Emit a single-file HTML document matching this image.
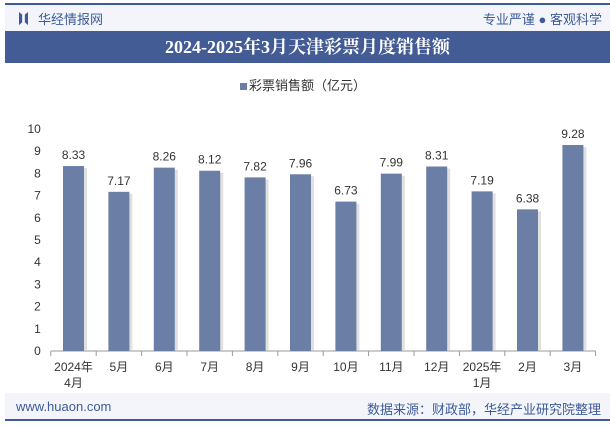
<!DOCTYPE html>
<html><head><meta charset="utf-8"><style>
body{margin:0;width:615px;height:427px;background:#fff;font-family:"Liberation Sans","Noto Sans CJK SC",sans-serif;position:relative;overflow:hidden}
.a{position:absolute}
</style></head><body>
<div class="a" style="left:5px;top:3px;width:605px;height:2px;background:#3d5a99"></div>
<div class="a" style="left:5px;top:5px;width:605px;height:26px;background:#f3f5fa"></div>
<div class="a" style="left:19px;top:12px;width:9px;height:13px;background:#3d5a99;clip-path:polygon(0 0,35% 20%,35% 80%,0 100%,0 0,100% 0,65% 20%,65% 80%,100% 100%,100% 0)"></div>
<div class="a" style="left:38px;top:9px;font-size:13px;color:#3d5a99">华经情报网</div>
<div class="a" style="right:13px;top:9px;font-size:13px;color:#3d5a99">专业严谨 ● 客观科学</div>
<div class="a" style="left:5px;top:31px;width:605px;height:32px;background:#435c95;color:#fff;font-family:'Liberation Serif','Noto Serif CJK SC',serif;font-weight:bold;font-size:18px;line-height:32px;text-align:center">2024-2025年3月天津彩票月度销售额</div>
<div class="a" style="left:240px;top:75px;font-size:13px;color:#333"><span style="display:inline-block;width:7px;height:7px;background:#6a7ea6;margin-right:2px"></span>彩票销售额（亿元）</div>
<svg class="a" style="left:0;top:0" width="615" height="427" id="c"></svg>
<div class="a" style="left:5px;top:393px;width:605px;height:26px;background:#f3f5fa"></div>
<div class="a" style="left:5px;top:419px;width:605px;height:2px;background:#3d5a99"></div>
<div class="a" style="left:16px;top:399px;font-size:13px;color:#3d5a99">www.huaon.com</div>
<div class="a" style="right:14px;top:399px;font-size:13px;color:#3d5a99">数据来源：财政部，华经产业研究院整理</div>
<script>
const categories=["2024年\n4月","5月","6月","7月","8月","9月","10月","11月","12月","2025年\n1月","2月","3月"];
const values=[8.33,7.17,8.26,8.12,7.82,7.96,6.73,7.99,8.31,7.19,6.38,9.28];
const yTicks=[0,1,2,3,4,5,6,7,8,9,10];
const svg=document.getElementById('c');const NS='http://www.w3.org/2000/svg';
const x0=50.8,x1=595.6,y0=351,y1=129;
const bw=(x1-x0)/categories.length;
const X=i=>x0+bw*(i+0.5);
const Y=v=>y0-(v/10)*(y0-y1);
function mk(t,a){const e=document.createElementNS(NS,t);for(const k in a)e.setAttribute(k,a[k]);svg.appendChild(e);return e;}
yTicks.forEach(v=>{const t=mk('text',{x:x0-10,y:Y(v)+4,'text-anchor':'end','font-size':12,fill:'#333'});t.textContent=v;

});
const ax=mk('line',{x1:x0,y1:y0,x2:x1,y2:y0,stroke:'#999'});


for(let i=0;i<=categories.length;i++){const tk=mk('line',{x1:x0+bw*i,y1:y0,x2:x0+bw*i,y2:y0+5,stroke:'#999'});

}
values.forEach((v,i)=>{
const sh=mk('rect',{x:X(i)-10.5+3,y:Y(v)+2,width:21,height:y0-Y(v)-2,fill:'#ccc',opacity:0.6});


const r=mk('rect',{x:X(i)-10.5,y:Y(v),width:21,height:y0-Y(v),fill:'#6a7ea6'});


const l=mk('text',{x:X(i),y:Y(v)-7,'text-anchor':'middle','font-size':12,fill:'#333'});l.textContent=v.toFixed(2);


categories[i].split('\n').forEach((s,j)=>{const t=mk('text',{x:X(i),y:371+j*16,'text-anchor':'middle','font-size':12,fill:'#333'});t.textContent=s;

});
});
</script>
</body></html>
